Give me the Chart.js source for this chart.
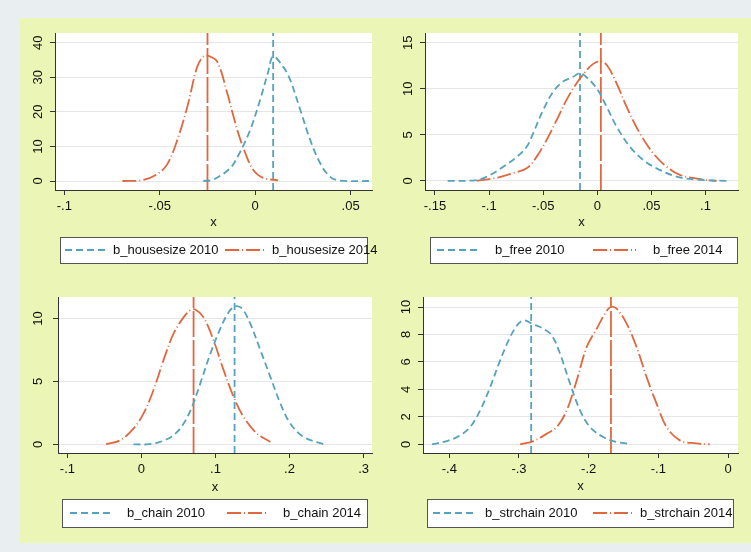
<!DOCTYPE html>
<html>
<head>
<meta charset="utf-8">
<script src="https://cdn.jsdelivr.net/npm/chart.js@4.4.1/dist/chart.umd.min.js"></script>
<style>
body { margin: 0; width: 751px; height: 552px; background: #e9eef1; position: relative; overflow: hidden; }
#region { position: absolute; left: 20px; top: 18px; width: 731px; height: 525px; background: #eaf5b6; }
canvas { position: absolute; }
</style>
</head>
<body>
<div id="region"></div>
<canvas id="c1"></canvas>
<canvas id="c2"></canvas>
<canvas id="c3"></canvas>
<canvas id="c4"></canvas>
<script>
var blue = '#55a2be';
var orange = '#e0683e';
var font = '"Liberation Sans", Arial, sans-serif';
var ink = '#111111';

/* b_housesize */
var houseX2010 = [-0.0272, -0.022, -0.013, -0.0079, -0.0026, 0.0026, 0.0068, 0.0094, 0.0147, 0.0183, 0.0236, 0.0288, 0.034, 0.0393, 0.0445, 0.0613];
var houseY2010 = [0, 0.4, 3.8, 8.4, 14.8, 23.5, 31.6, 36, 33, 29.3, 20.6, 11.9, 5.2, 1.2, 0.1, 0];
var houseX2014 = [-0.0696, -0.0586, -0.0513, -0.0461, -0.0408, -0.0356, -0.0304, -0.0272, -0.0246, -0.0199, -0.0147, -0.0094, -0.0052, -0.001, 0.0042, 0.012];
var houseY2014 = [0, 0.3, 2, 4.8, 11.9, 21.4, 33, 36, 36.2, 34.5, 25.5, 14.8, 8.1, 3.2, 0.9, 0.2];
var houseMeans = [0.0094, -0.025];
var houseLabels = ['b_housesize 2010', 'b_housesize 2014'];
var houseXTicks = [-0.1, -0.05, 0, 0.05];
var houseYTicks = [0, 10, 20, 30, 40];

/* b_free */
var freeX2010 = [-0.1383, -0.1115, -0.099, -0.0869, -0.0745, -0.0653, -0.0592, -0.05, -0.0407, -0.0315, -0.0223, -0.016, -0.0099, -0.0006, 0.0086, 0.0178, 0.0301, 0.0424, 0.0548, 0.0733, 0.0917, 0.1225];
var freeY2010 = [0, 0.1, 0.65, 1.55, 2.6, 3.7, 5.2, 7.7, 9.7, 10.8, 11.3, 11.7, 11.25, 10.05, 8.06, 5.9, 3.72, 2.28, 1.37, 0.47, 0.15, 0];
var freeX2014 = [-0.1115, -0.093, -0.0776, -0.0653, -0.056, -0.0468, -0.0376, -0.0284, -0.0191, -0.0099, -0.0038, 0.0024, 0.0086, 0.0178, 0.027, 0.0393, 0.0517, 0.064, 0.0763, 0.0979, 0.1102];
var freeY2014 = [0, 0.35, 0.87, 1.37, 2.64, 4.45, 6.6, 8.8, 10.6, 12.0, 12.7, 13.0, 12.6, 10.6, 8.06, 5.17, 3.0, 1.55, 0.65, 0.15, 0];
var freeMeans = [-0.016, 0.0033];
var freeLabels = ['b_free 2010', 'b_free 2014'];
var freeXTicks = [-0.15, -0.1, -0.05, 0, 0.05, 0.1];
var freeYTicks = [0, 5, 10, 15];

/* b_chain */
var chainX2010 = [-0.0108, 0.0073, 0.0253, 0.0433, 0.0568, 0.0682, 0.0794, 0.093, 0.1065, 0.1177, 0.1268, 0.1359, 0.147, 0.1606, 0.1742, 0.1877, 0.2012, 0.2192, 0.2463];
var chainY2010 = [0, 0, 0.19, 0.72, 1.64, 2.97, 4.83, 7.2, 9.2, 10.5, 10.98, 10.8, 9.6, 7.5, 5.35, 3.24, 1.64, 0.58, 0];
var chainX2014 = [-0.0478, -0.0288, -0.0108, 0.0027, 0.0162, 0.0298, 0.0433, 0.0568, 0.0659, 0.0727, 0.0839, 0.0974, 0.111, 0.1245, 0.138, 0.1561, 0.1742];
var chainY2014 = [0, 0.32, 1.25, 2.44, 4.3, 6.7, 8.8, 10.1, 10.66, 10.72, 10.1, 8.27, 5.9, 3.77, 2.17, 0.85, 0.19];
var chainMeans = [0.1258, 0.0704];
var chainLabels = ['b_chain 2010', 'b_chain 2014'];
var chainXTicks = [-0.1, 0, 0.1, 0.2, 0.3];
var chainYTicks = [0, 5, 10];

/* b_strchain */
var strX2010 = [-0.4248, -0.4033, -0.3842, -0.37, -0.3556, -0.3413, -0.327, -0.3126, -0.3007, -0.2926, -0.2793, -0.2649, -0.2529, -0.241, -0.2267, -0.2124, -0.198, -0.179, -0.1598, -0.1432];
var strY2010 = [0, 0.24, 0.66, 1.26, 2.48, 4.17, 6.12, 7.82, 8.79, 9.03, 8.74, 8.42, 7.94, 6.6, 4.42, 2.48, 1.26, 0.53, 0.17, 0.05];
var strX2014 = [-0.2983, -0.2793, -0.26, -0.2457, -0.2314, -0.2171, -0.2028, -0.1885, -0.1766, -0.1684, -0.1598, -0.1455, -0.1312, -0.1169, -0.1025, -0.0882, -0.0692, -0.0453, -0.0262];
var strY2014 = [0, 0.24, 0.78, 1.26, 2.48, 4.66, 7.09, 8.42, 9.52, 10.0, 9.88, 8.79, 7.09, 4.9, 2.96, 1.26, 0.29, 0.07, 0];
var strMeans = [-0.2825, -0.168];
var strLabels = ['b_strchain 2010', 'b_strchain 2014'];
var strXTicks = [-0.4, -0.3, -0.2, -0.1, 0];
var strYTicks = [0, 2, 4, 6, 8, 10];

/* 패널 배치 (페이지 좌표) */
var panels = [
	{ id: 'c1', canvas: [20, 18, 370, 262], plot: [55, 33, 372, 190], xRange: [-0.1049, 0.0612], yRange: [-2.6, 42.8],
	  xTicks: houseXTicks, yTicks: houseYTicks, curves: [[houseX2010, houseY2010], [houseX2014, houseY2014]], means: houseMeans, labels: houseLabels,
	  yPad: 4, xAxisH: 40.5, legend: { box: [60, 237, 307, 26], sample: [65, 225], text: [113, 272], len: 41 } },
	{ id: 'c2', canvas: [390, 18, 361, 262], plot: [425, 33, 738, 190], xRange: [-0.1592, 0.130], yRange: [-0.98, 16.05],
	  xTicks: freeXTicks, yTicks: freeYTicks, curves: [[freeX2010, freeY2010], [freeX2014, freeY2014]], means: freeMeans, labels: freeLabels,
	  yPad: 4, xAxisH: 40.5, legend: { box: [430, 237, 307, 26], sample: [437, 593], text: [495, 653], len: 43 } },
	{ id: 'c3', canvas: [20, 280, 370, 263], plot: [58, 297, 372, 453], xRange: [-0.1127, 0.3114], yRange: [-0.69, 11.72],
	  xTicks: chainXTicks, yTicks: chainYTicks, curves: [[chainX2010, chainY2010], [chainX2014, chainY2014]], means: chainMeans, labels: chainLabels,
	  yPad: 7, xAxisH: 42, legend: { box: [62, 499, 305, 28], sample: [70, 227], text: [127, 283], len: 41 } },
	{ id: 'c4', canvas: [390, 280, 361, 263], plot: [423, 297, 738, 453], xRange: [-0.4377, 0.0143], yRange: [-0.63, 10.73],
	  xTicks: strXTicks, yTicks: strYTicks, curves: [[strX2010, strY2010], [strX2014, strY2014]], means: strMeans, labels: strLabels,
	  yPad: 4, xAxisH: 41, legend: { box: [427, 499, 306, 28], sample: [433, 593], text: [485, 640], len: 40 } }
];

var curveStyle = [
	{ color: blue, dash: [7, 4] },
	{ color: orange, dash: [14, 3, 1, 3] }
];
var meanDash = [[7, 4], [26, 3]];

/* 흰색 플롯 영역 */
var plotBackground = {
	id: 'plotBackground',
	beforeDraw: function(chart) {
		var a = chart.chartArea, ctx = chart.ctx;
		ctx.save();
		ctx.fillStyle = '#ffffff';
		ctx.fillRect(a.left, a.top, a.right - a.left, a.bottom - a.top);
		ctx.restore();
	}
};

/* 테두리 범례 */
var boxLegend = {
	id: 'boxLegend',
	afterDraw: function(chart, args, opts) {
		var ctx = chart.ctx, ox = opts.offset[0], oy = opts.offset[1], b = opts.box;
		ctx.save();
		ctx.fillStyle = '#ffffff';
		ctx.fillRect(b[0] - ox, b[1] - oy, b[2], b[3]);
		ctx.strokeStyle = '#555555';
		ctx.lineWidth = 1;
		ctx.strokeRect(b[0] - ox + 0.5, b[1] - oy + 0.5, b[2], b[3]);
		var cy = b[1] - oy + b[3] / 2;
		for (var i = 0; i < 2; i++) {
			var ds = chart.data.datasets[i];
			ctx.setLineDash(ds.borderDash);
			ctx.strokeStyle = ds.borderColor;
			ctx.lineWidth = ds.borderWidth;
			ctx.beginPath();
			ctx.moveTo(opts.sample[i] - ox, cy);
			ctx.lineTo(opts.sample[i] - ox + opts.len, cy);
			ctx.stroke();
			ctx.setLineDash([]);
			ctx.fillStyle = ink;
			ctx.font = '13px ' + font;
			ctx.textBaseline = 'middle';
			ctx.fillText(ds.label, opts.text[i] - ox, cy);
		}
		ctx.restore();
	}
};

function fmtTick(v) {
	var s = String(Math.round(v * 1000) / 1000);
	return s.replace(/^(-?)0\./, '$1.');
}

function createPanel(p) {
	var el = document.getElementById(p.id);
	el.width = p.canvas[2];
	el.height = p.canvas[3];
	el.style.left = p.canvas[0] + 'px';
	el.style.top = p.canvas[1] + 'px';

	var datasets = [];
	p.curves.forEach(function(c, i) {
		datasets.push({
			label: p.labels[i],
			data: c[0].map(function(x, j) { return { x: x, y: c[1][j] }; }),
			borderColor: curveStyle[i].color,
			borderDash: curveStyle[i].dash,
			borderWidth: 1.8,
			pointRadius: 0,
			tension: 0.35,
			fill: false
		});
	});
	p.means.forEach(function(m, i) {
		datasets.push({
			label: p.labels[i] + ' mean',
			data: [{ x: m, y: p.yRange[0] }, { x: m, y: p.yRange[1] }],
			borderColor: curveStyle[i].color,
			borderDash: meanDash[i],
			borderWidth: 1.8,
			pointRadius: 0,
			fill: false
		});
	});

	var yAxisW = 30;
	new Chart(el.getContext('2d'), {
		type: 'line',
		data: { datasets: datasets },
		plugins: [plotBackground, boxLegend],
		options: {
			responsive: false,
			animation: false,
			devicePixelRatio: 1,
			layout: {
				padding: {
					left: p.plot[0] - p.canvas[0] - yAxisW,
					top: p.plot[1] - p.canvas[1],
					right: p.canvas[0] + p.canvas[2] - p.plot[2],
					bottom: p.canvas[1] + p.canvas[3] - p.plot[3] - p.xAxisH
				}
			},
			plugins: {
				legend: { display: false },
				tooltip: { enabled: false },
				boxLegend: { offset: [p.canvas[0], p.canvas[1]], box: p.legend.box, sample: p.legend.sample, text: p.legend.text, len: p.legend.len }
			},
			scales: {
				x: {
					type: 'linear',
					min: p.xRange[0],
					max: p.xRange[1],
					afterBuildTicks: function(s) { s.ticks = p.xTicks.map(function(v) { return { value: v }; }); },
					afterFit: function(s) { s.height = p.xAxisH; },
					ticks: { callback: fmtTick, color: ink, font: { family: font, size: 13 }, padding: 4, maxRotation: 0, autoSkip: false },
					grid: { drawOnChartArea: false, drawTicks: true, tickLength: 5, tickColor: '#333333' },
					border: { display: true, color: '#333333', width: 1 },
					title: { display: true, text: 'x', color: ink, font: { family: font, size: 13 }, padding: 0 }
				},
				y: {
					type: 'linear',
					min: p.yRange[0],
					max: p.yRange[1],
					afterBuildTicks: function(s) { s.ticks = p.yTicks.map(function(v) { return { value: v }; }); },
					afterFit: function(s) { s.width = yAxisW; },
					ticks: { callback: fmtTick, color: ink, font: { family: font, size: 13 }, padding: p.yPad, minRotation: 90, maxRotation: 90, crossAlign: 'center' },
					grid: { color: '#e6e6e6', lineWidth: 1, drawTicks: true, tickLength: 5, tickColor: '#333333' },
					border: { display: true, color: '#333333', width: 1 }
				}
			}
		}
	});
}

panels.forEach(createPanel);
</script>
</body>
</html>
